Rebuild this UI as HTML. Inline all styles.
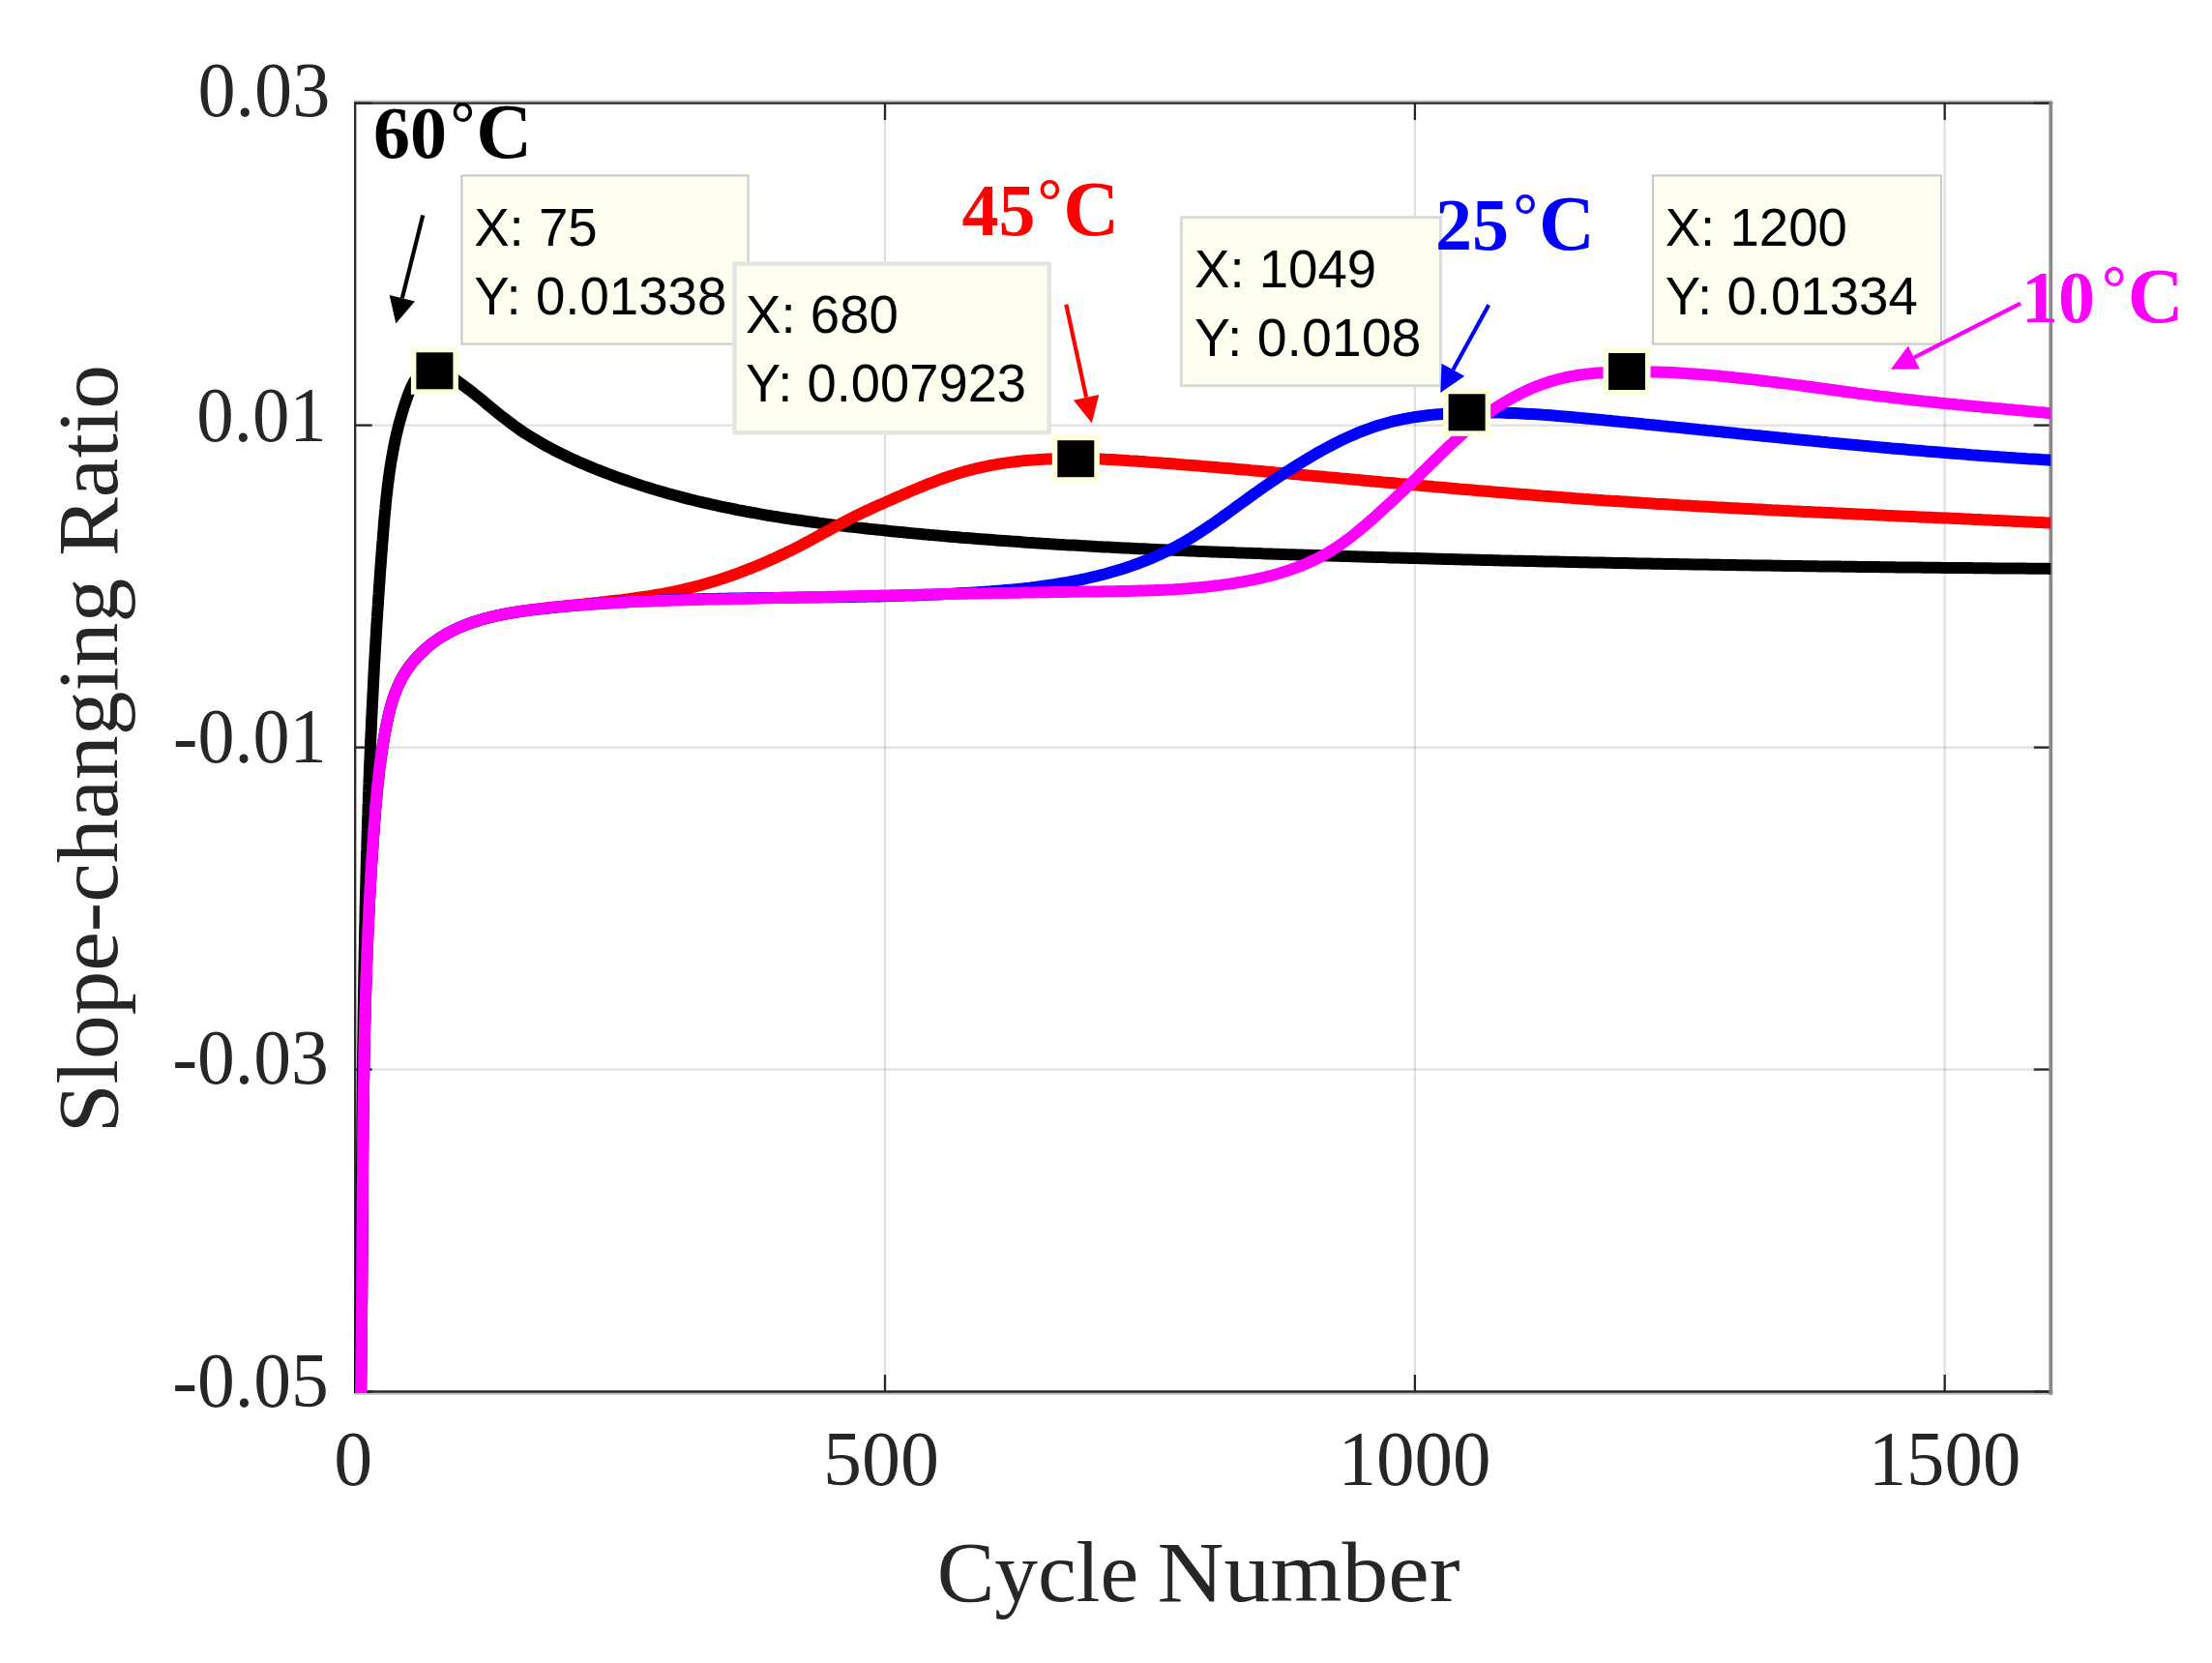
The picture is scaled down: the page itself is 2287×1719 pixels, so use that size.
<!DOCTYPE html>
<html lang="en"><head><meta charset="utf-8"><title>Slope-changing Ratio vs Cycle Number</title>
<style>html,body{margin:0;padding:0;background:#fff}svg{display:block}</style></head>
<body>
<svg width="2287" height="1719" viewBox="0 0 2287 1719">
<rect width="2287" height="1719" fill="#fff"/>
<defs><clipPath id="ax"><rect x="366.0" y="106.6" width="1754.3000000000002" height="1333.5"/></clipPath></defs>
<g stroke="#262626" stroke-opacity="0.145" stroke-width="2.2" fill="none">
<line x1="915.0" y1="106.6" x2="915.0" y2="1438.5"/>
<line x1="1462.9" y1="106.6" x2="1462.9" y2="1438.5"/>
<line x1="2010.7" y1="106.6" x2="2010.7" y2="1438.5"/>
<line x1="367.2" y1="439.6" x2="2120.3" y2="439.6"/>
<line x1="367.2" y1="772.6" x2="2120.3" y2="772.6"/>
<line x1="367.2" y1="1105.5" x2="2120.3" y2="1105.5"/>
</g>
<line x1="366.09999999999997" y1="1440.7" x2="2122.2000000000003" y2="1440.7" stroke="#c0c0c0" stroke-width="2.2"/>
<line x1="366.09999999999997" y1="104.6" x2="2122.2000000000003" y2="104.6" stroke="#c4c4c4" stroke-width="2"/>
<g stroke="#262626" stroke-width="2.3" fill="none">
<line x1="367.2" y1="105.5" x2="367.2" y2="1439.6"/>
<line x1="366.09999999999997" y1="106.6" x2="2122.2000000000003" y2="106.6"/>
<line x1="366.09999999999997" y1="1438.5" x2="2122.2000000000003" y2="1438.5"/>
<line x1="915.0" y1="106.6" x2="915.0" y2="124.1"/>
<line x1="915.0" y1="1438.5" x2="915.0" y2="1421.0"/>
<line x1="1462.9" y1="106.6" x2="1462.9" y2="124.1"/>
<line x1="1462.9" y1="1438.5" x2="1462.9" y2="1421.0"/>
<line x1="2010.7" y1="106.6" x2="2010.7" y2="124.1"/>
<line x1="2010.7" y1="1438.5" x2="2010.7" y2="1421.0"/>
<line x1="367.2" y1="106.6" x2="384.7" y2="106.6"/>
<line x1="2120.3" y1="106.6" x2="2102.8" y2="106.6"/>
<line x1="367.2" y1="439.6" x2="384.7" y2="439.6"/>
<line x1="2120.3" y1="439.6" x2="2102.8" y2="439.6"/>
<line x1="367.2" y1="772.6" x2="384.7" y2="772.6"/>
<line x1="2120.3" y1="772.6" x2="2102.8" y2="772.6"/>
<line x1="367.2" y1="1105.5" x2="384.7" y2="1105.5"/>
<line x1="2120.3" y1="1105.5" x2="2102.8" y2="1105.5"/>
<line x1="367.2" y1="1438.5" x2="384.7" y2="1438.5"/>
<line x1="2120.3" y1="1438.5" x2="2102.8" y2="1438.5"/>
</g>
<line x1="2120.3" y1="105.5" x2="2120.3" y2="1441.7" stroke="#8a8a8a" stroke-width="3.8"/>
<g clip-path="url(#ax)" fill="none" stroke-width="12" stroke-linejoin="round">
<path d="M371.8,1445.0 L371.8,1441.0 L371.9,1437.0 L371.9,1433.0 L372.0,1429.0 L372.0,1425.0 L372.1,1421.0 L372.1,1417.0 L372.2,1413.0 L372.2,1409.0 L372.3,1405.0 L372.3,1401.0 L372.4,1397.0 L372.4,1393.0 L372.4,1389.0 L372.5,1385.0 L372.5,1381.1 L372.6,1377.1 L372.6,1373.1 L372.6,1369.1 L372.7,1365.1 L372.7,1361.1 L372.8,1357.1 L372.8,1353.1 L372.8,1349.1 L372.9,1345.1 L372.9,1341.1 L372.9,1337.1 L373.0,1333.1 L373.0,1329.1 L373.0,1325.1 L373.1,1321.1 L373.1,1317.1 L373.1,1313.1 L373.2,1309.1 L373.2,1305.1 L373.2,1301.1 L373.3,1297.1 L373.3,1293.1 L373.3,1289.1 L373.4,1285.1 L373.4,1281.1 L373.4,1277.1 L373.5,1273.1 L373.5,1269.1 L373.5,1265.1 L373.6,1261.1 L373.6,1257.1 L373.6,1253.1 L373.7,1249.1 L373.7,1245.1 L373.7,1241.1 L373.8,1237.1 L373.8,1233.1 L373.8,1229.1 L373.9,1225.1 L373.9,1221.1 L373.9,1217.1 L374.0,1213.1 L374.0,1209.1 L374.0,1205.1 L374.1,1201.1 L374.1,1197.1 L374.1,1193.1 L374.2,1189.1 L374.2,1185.1 L374.2,1181.1 L374.3,1177.1 L374.3,1173.1 L374.3,1169.1 L374.4,1165.1 L374.4,1161.1 L374.4,1157.1 L374.5,1153.1 L374.5,1149.1 L374.6,1145.1 L374.6,1141.1 L374.6,1137.1 L374.7,1133.1 L374.7,1129.1 L374.8,1125.1 L374.8,1121.1 L374.8,1117.1 L374.9,1113.1 L374.9,1109.1 L375.0,1105.1 L375.0,1101.1 L375.1,1097.1 L375.1,1093.1 L375.2,1089.1 L375.2,1085.1 L375.3,1081.1 L375.3,1077.1 L375.4,1073.1 L375.4,1069.1 L375.5,1065.1 L375.5,1061.1 L375.6,1057.1 L375.6,1053.1 L375.7,1049.1 L375.7,1045.1 L375.8,1041.1 L375.9,1037.1 L375.9,1033.1 L376.0,1029.1 L376.0,1025.1 L376.1,1021.1 L376.2,1017.1 L376.2,1013.1 L376.3,1009.1 L376.4,1005.1 L376.4,1001.1 L376.5,997.1 L376.6,993.1 L376.7,989.1 L376.7,985.1 L376.8,981.1 L376.9,977.1 L377.0,973.1 L377.0,969.1 L377.1,965.1 L377.2,961.1 L377.3,957.1 L377.4,953.1 L377.5,949.2 L377.5,945.2 L377.6,941.2 L377.7,937.2 L377.8,933.2 L377.9,929.2 L378.0,925.2 L378.1,921.2 L378.2,917.2 L378.3,913.2 L378.4,909.2 L378.5,905.2 L378.6,901.2 L378.7,897.2 L378.8,893.2 L378.9,889.2 L379.0,885.2 L379.1,881.2 L379.3,877.2 L379.4,873.2 L379.5,869.2 L379.6,865.2 L379.7,861.2 L379.9,857.2 L380.0,853.2 L380.1,849.2 L380.2,845.2 L380.4,841.2 L380.5,837.2 L380.6,833.2 L380.8,829.2 L380.9,825.2 L381.0,821.2 L381.2,817.2 L381.3,813.2 L381.5,809.2 L381.6,805.2 L381.8,801.3 L381.9,797.3 L382.1,793.3 L382.2,789.3 L382.4,785.3 L382.6,781.3 L382.7,777.3 L382.9,773.3 L383.1,769.3 L383.2,765.3 L383.4,761.3 L383.6,757.3 L383.8,753.3 L383.9,749.3 L384.1,745.3 L384.3,741.3 L384.5,737.3 L384.7,733.4 L384.9,729.4 L385.1,725.4 L385.3,721.4 L385.5,717.4 L385.7,713.4 L385.9,709.4 L386.1,705.4 L386.3,701.4 L386.5,697.4 L386.7,693.4 L386.9,689.4 L387.1,685.4 L387.4,681.5 L387.6,677.5 L387.8,673.5 L388.0,669.5 L388.3,665.5 L388.5,661.5 L388.8,657.5 L389.0,653.5 L389.2,649.5 L389.5,645.5 L389.7,641.6 L390.0,637.6 L390.2,633.6 L390.5,629.6 L390.8,625.6 L391.0,621.6 L391.3,617.6 L391.6,613.6 L391.8,609.7 L392.1,605.7 L392.4,601.7 L392.7,597.7 L392.9,593.7 L393.2,589.7 L393.5,585.7 L393.8,581.7 L394.1,577.8 L394.4,573.8 L394.7,569.8 L395.0,565.8 L395.3,561.8 L395.7,557.8 L396.0,553.8 L396.3,549.9 L396.6,545.9 L396.9,541.9 L397.3,537.9 L397.6,533.9 L398.0,530.0 L398.4,526.0 L398.7,522.0 L399.1,518.0 L399.5,514.0 L400.0,510.1 L400.4,506.1 L400.9,502.1 L401.4,498.2 L401.9,494.2 L402.4,490.2 L403.0,486.3 L403.6,482.3 L404.2,478.4 L404.9,474.4 L405.6,470.5 L406.3,466.6 L407.0,462.6 L407.8,458.7 L408.6,454.8 L409.5,450.8 L410.4,446.9 L411.4,443.0 L412.3,439.1 L413.4,435.2 L414.5,431.3 L415.6,427.4 L416.8,423.5 L418.0,419.6 L419.3,415.8 L420.6,411.9 L422.0,408.0 L423.5,404.2 L425.0,400.5 L426.8,396.9 L428.7,393.6 L431.0,390.6 L433.5,388.0 L436.5,385.9 L439.9,384.4 L443.6,383.5 L447.5,383.1 L451.3,383.4 L455.2,384.3 L458.9,385.7 L462.6,387.4 L466.2,389.5 L469.7,391.7 L473.2,394.1 L476.6,396.6 L480.0,399.1 L483.3,401.6 L486.5,404.1 L489.8,406.6 L492.9,409.1 L496.1,411.7 L499.2,414.2 L502.3,416.8 L505.3,419.3 L508.4,421.8 L511.5,424.3 L514.5,426.8 L517.6,429.3 L520.7,431.7 L523.8,434.1 L526.9,436.5 L530.1,438.9 L533.2,441.2 L536.5,443.5 L539.7,445.7 L543.0,447.9 L546.3,450.0 L549.7,452.1 L553.1,454.2 L556.5,456.2 L560.0,458.2 L563.4,460.2 L566.9,462.1 L570.5,464.0 L574.0,465.8 L577.6,467.6 L581.2,469.4 L584.8,471.2 L588.4,472.9 L592.1,474.6 L595.7,476.3 L599.4,477.9 L603.1,479.5 L606.8,481.1 L610.5,482.6 L614.3,484.2 L618.0,485.7 L621.7,487.1 L625.5,488.6 L629.2,490.0 L633.0,491.4 L636.8,492.8 L640.5,494.2 L644.3,495.5 L648.1,496.8 L651.9,498.1 L655.7,499.4 L659.5,500.6 L663.3,501.9 L667.1,503.1 L670.9,504.3 L674.7,505.4 L678.5,506.6 L682.4,507.7 L686.2,508.8 L690.0,509.9 L693.9,511.0 L697.7,512.0 L701.6,513.1 L705.4,514.1 L709.3,515.1 L713.2,516.1 L717.1,517.0 L720.9,518.0 L724.8,518.9 L728.7,519.8 L732.6,520.7 L736.5,521.6 L740.4,522.4 L744.3,523.3 L748.2,524.1 L752.1,524.9 L756.0,525.7 L759.9,526.5 L763.8,527.3 L767.7,528.0 L771.7,528.8 L775.6,529.5 L779.5,530.2 L783.4,530.9 L787.4,531.6 L791.3,532.3 L795.3,533.0 L799.2,533.6 L803.2,534.2 L807.1,534.9 L811.1,535.5 L815.0,536.1 L819.0,536.7 L822.9,537.3 L826.9,537.8 L830.8,538.4 L834.8,539.0 L838.8,539.5 L842.7,540.0 L846.7,540.6 L850.7,541.1 L854.6,541.6 L858.6,542.1 L862.6,542.6 L866.6,543.1 L870.5,543.5 L874.5,544.0 L878.5,544.5 L882.5,544.9 L886.5,545.4 L890.4,545.8 L894.4,546.2 L898.4,546.7 L902.4,547.1 L906.4,547.5 L910.3,547.9 L914.3,548.3 L918.3,548.8 L922.3,549.2 L926.3,549.6 L930.3,549.9 L934.2,550.3 L938.2,550.7 L942.2,551.1 L946.2,551.5 L950.2,551.8 L954.2,552.2 L958.2,552.6 L962.1,552.9 L966.1,553.3 L970.1,553.6 L974.1,554.0 L978.1,554.3 L982.1,554.7 L986.1,555.0 L990.0,555.3 L994.0,555.7 L998.0,556.0 L1002.0,556.3 L1006.0,556.6 L1010.0,556.9 L1014.0,557.2 L1018.0,557.5 L1021.9,557.8 L1025.9,558.1 L1029.9,558.4 L1033.9,558.7 L1037.9,559.0 L1041.9,559.3 L1045.9,559.6 L1049.9,559.8 L1053.9,560.1 L1057.8,560.4 L1061.8,560.7 L1065.8,560.9 L1069.8,561.2 L1073.8,561.4 L1077.8,561.7 L1081.8,561.9 L1085.8,562.2 L1089.8,562.4 L1093.8,562.7 L1097.7,562.9 L1101.7,563.2 L1105.7,563.4 L1109.7,563.6 L1113.7,563.8 L1117.7,564.1 L1121.7,564.3 L1125.7,564.5 L1129.7,564.7 L1133.7,565.0 L1137.7,565.2 L1141.6,565.4 L1145.6,565.6 L1149.6,565.8 L1153.6,566.0 L1157.6,566.2 L1161.6,566.4 L1165.6,566.6 L1169.6,566.8 L1173.6,567.0 L1177.6,567.2 L1181.6,567.3 L1185.6,567.5 L1189.6,567.7 L1193.6,567.9 L1197.5,568.1 L1201.5,568.2 L1205.5,568.4 L1209.5,568.6 L1213.5,568.8 L1217.5,568.9 L1221.5,569.1 L1225.5,569.3 L1229.5,569.4 L1233.5,569.6 L1237.5,569.8 L1241.5,569.9 L1245.5,570.1 L1249.5,570.2 L1253.5,570.4 L1257.5,570.5 L1261.5,570.7 L1265.4,570.8 L1269.4,571.0 L1273.4,571.1 L1277.4,571.3 L1281.4,571.4 L1285.4,571.6 L1289.4,571.7 L1293.4,571.8 L1297.4,572.0 L1301.4,572.1 L1305.4,572.3 L1309.4,572.4 L1313.4,572.5 L1317.4,572.7 L1321.4,572.8 L1325.4,572.9 L1329.4,573.1 L1333.4,573.2 L1337.4,573.3 L1341.4,573.5 L1345.4,573.6 L1349.4,573.7 L1353.4,573.8 L1357.3,574.0 L1361.3,574.1 L1365.3,574.2 L1369.3,574.3 L1373.3,574.5 L1377.3,574.6 L1381.3,574.7 L1385.3,574.8 L1389.3,575.0 L1393.3,575.1 L1397.3,575.2 L1401.3,575.3 L1405.3,575.4 L1409.3,575.5 L1413.3,575.7 L1417.3,575.8 L1421.3,575.9 L1425.3,576.0 L1429.3,576.1 L1433.3,576.2 L1437.3,576.4 L1441.3,576.5 L1445.3,576.6 L1449.3,576.7 L1453.3,576.8 L1457.3,576.9 L1461.3,577.0 L1465.3,577.1 L1469.3,577.2 L1473.3,577.3 L1477.3,577.5 L1481.3,577.6 L1485.3,577.7 L1489.2,577.8 L1493.2,577.9 L1497.2,578.0 L1501.2,578.1 L1505.2,578.2 L1509.2,578.3 L1513.2,578.4 L1517.2,578.5 L1521.2,578.6 L1525.2,578.7 L1529.2,578.8 L1533.2,578.9 L1537.2,579.0 L1541.2,579.1 L1545.2,579.2 L1549.2,579.3 L1553.2,579.4 L1557.2,579.5 L1561.2,579.6 L1565.2,579.7 L1569.2,579.7 L1573.2,579.8 L1577.2,579.9 L1581.2,580.0 L1585.2,580.1 L1589.2,580.2 L1593.2,580.3 L1597.2,580.4 L1601.2,580.5 L1605.2,580.6 L1609.2,580.6 L1613.2,580.7 L1617.2,580.8 L1621.2,580.9 L1625.2,581.0 L1629.2,581.1 L1633.2,581.2 L1637.2,581.2 L1641.2,581.3 L1645.2,581.4 L1649.2,581.5 L1653.2,581.6 L1657.2,581.6 L1661.2,581.7 L1665.2,581.8 L1669.2,581.9 L1673.2,582.0 L1677.2,582.0 L1681.2,582.1 L1685.2,582.2 L1689.2,582.3 L1693.2,582.4 L1697.2,582.4 L1701.2,582.5 L1705.2,582.6 L1709.2,582.7 L1713.2,582.7 L1717.2,582.8 L1721.2,582.9 L1725.2,582.9 L1729.2,583.0 L1733.2,583.1 L1737.1,583.2 L1741.1,583.2 L1745.1,583.3 L1749.1,583.4 L1753.1,583.4 L1757.1,583.5 L1761.1,583.6 L1765.1,583.6 L1769.1,583.7 L1773.1,583.8 L1777.1,583.8 L1781.1,583.9 L1785.1,584.0 L1789.1,584.0 L1793.1,584.1 L1797.1,584.2 L1801.1,584.2 L1805.1,584.3 L1809.1,584.3 L1813.1,584.4 L1817.1,584.5 L1821.1,584.5 L1825.1,584.6 L1829.1,584.6 L1833.1,584.7 L1837.1,584.8 L1841.1,584.8 L1845.1,584.9 L1849.1,584.9 L1853.1,585.0 L1857.1,585.0 L1861.1,585.1 L1865.1,585.2 L1869.1,585.2 L1873.1,585.3 L1877.1,585.3 L1881.1,585.4 L1885.1,585.4 L1889.1,585.5 L1893.1,585.5 L1897.1,585.6 L1901.1,585.6 L1905.1,585.7 L1909.1,585.7 L1913.1,585.8 L1917.1,585.8 L1921.1,585.9 L1925.1,585.9 L1929.1,586.0 L1933.1,586.0 L1937.1,586.1 L1941.1,586.1 L1945.1,586.2 L1949.1,586.2 L1953.1,586.3 L1957.1,586.3 L1961.1,586.4 L1965.1,586.4 L1969.1,586.4 L1973.1,586.5 L1977.1,586.5 L1981.1,586.6 L1985.1,586.6 L1989.1,586.7 L1993.1,586.7 L1997.1,586.7 L2001.1,586.8 L2005.1,586.8 L2009.1,586.9 L2013.1,586.9 L2017.1,587.0 L2021.1,587.0 L2025.0,587.0 L2029.0,587.1 L2033.0,587.1 L2037.0,587.1 L2041.0,587.2 L2045.0,587.2 L2049.0,587.3 L2053.0,587.3 L2057.0,587.3 L2061.0,587.4 L2065.0,587.4 L2069.0,587.4 L2073.0,587.5 L2077.0,587.5 L2081.0,587.5 L2085.0,587.6 L2089.0,587.6 L2093.0,587.6 L2097.0,587.7 L2101.0,587.7 L2105.0,587.7 L2109.0,587.8 L2113.0,587.8 L2117.0,587.8 L2121.0,587.9 L2125.0,587.9" stroke="#000000"/>
<path d="M373.0,1445.0 L373.0,1441.4 L373.1,1437.8 L373.2,1434.2 L373.2,1430.6 L373.3,1427.1 L373.3,1423.5 L373.4,1419.9 L373.5,1416.3 L373.5,1412.7 L373.6,1409.1 L373.6,1405.5 L373.7,1402.0 L373.7,1398.4 L373.7,1394.8 L373.8,1391.2 L373.8,1387.6 L373.9,1384.0 L373.9,1380.4 L373.9,1376.8 L374.0,1373.2 L374.0,1369.7 L374.1,1366.1 L374.1,1362.5 L374.1,1358.9 L374.2,1355.3 L374.2,1351.7 L374.2,1348.1 L374.2,1344.5 L374.3,1340.9 L374.3,1337.3 L374.3,1333.7 L374.4,1330.1 L374.4,1326.6 L374.4,1323.0 L374.4,1319.4 L374.5,1315.8 L374.5,1312.2 L374.5,1308.6 L374.5,1305.0 L374.5,1301.4 L374.6,1297.8 L374.6,1294.2 L374.6,1290.6 L374.6,1287.0 L374.6,1283.4 L374.7,1279.8 L374.7,1276.2 L374.7,1272.6 L374.7,1269.0 L374.7,1265.5 L374.8,1261.9 L374.8,1258.3 L374.8,1254.7 L374.8,1251.1 L374.8,1247.5 L374.9,1243.9 L374.9,1240.3 L374.9,1236.7 L374.9,1233.1 L375.0,1229.5 L375.0,1225.9 L375.0,1222.3 L375.0,1218.7 L375.0,1215.1 L375.1,1211.5 L375.1,1207.9 L375.1,1204.3 L375.1,1200.7 L375.2,1197.1 L375.2,1193.5 L375.2,1189.9 L375.3,1186.3 L375.3,1182.7 L375.3,1179.1 L375.4,1175.5 L375.4,1172.0 L375.4,1168.4 L375.5,1164.8 L375.5,1161.2 L375.5,1157.6 L375.6,1154.0 L375.6,1150.4 L375.7,1146.8 L375.7,1143.2 L375.7,1139.6 L375.8,1136.0 L375.8,1132.4 L375.9,1128.8 L375.9,1125.2 L376.0,1121.6 L376.0,1118.0 L376.1,1114.4 L376.1,1110.8 L376.2,1107.2 L376.3,1103.6 L376.3,1100.0 L376.4,1096.4 L376.4,1092.8 L376.5,1089.2 L376.6,1085.7 L376.7,1082.1 L376.7,1078.5 L376.8,1074.9 L376.9,1071.3 L377.0,1067.7 L377.0,1064.1 L377.1,1060.5 L377.2,1056.9 L377.3,1053.3 L377.4,1049.7 L377.5,1046.1 L377.6,1042.5 L377.7,1038.9 L377.8,1035.3 L377.9,1031.8 L378.0,1028.2 L378.1,1024.6 L378.2,1021.0 L378.3,1017.4 L378.4,1013.8 L378.5,1010.2 L378.7,1006.6 L378.8,1003.0 L378.9,999.4 L379.0,995.8 L379.2,992.3 L379.3,988.7 L379.4,985.1 L379.6,981.5 L379.7,977.9 L379.9,974.3 L380.0,970.7 L380.2,967.1 L380.3,963.6 L380.5,960.0 L380.7,956.4 L380.8,952.8 L381.0,949.2 L381.2,945.6 L381.4,942.0 L381.5,938.5 L381.7,934.9 L381.9,931.3 L382.1,927.7 L382.3,924.1 L382.5,920.5 L382.7,917.0 L382.9,913.4 L383.1,909.8 L383.3,906.2 L383.5,902.6 L383.8,899.0 L384.0,895.5 L384.2,891.9 L384.5,888.3 L384.7,884.7 L384.9,881.1 L385.2,877.6 L385.4,874.0 L385.7,870.4 L386.0,866.8 L386.2,863.3 L386.5,859.7 L386.8,856.1 L387.0,852.5 L387.3,849.0 L387.6,845.4 L387.9,841.8 L388.2,838.2 L388.5,834.7 L388.8,831.1 L389.1,827.5 L389.5,823.9 L389.8,820.4 L390.2,816.8 L390.5,813.2 L390.9,809.7 L391.3,806.1 L391.7,802.5 L392.1,798.9 L392.5,795.4 L393.0,791.8 L393.4,788.2 L393.9,784.7 L394.4,781.1 L394.9,777.5 L395.4,774.0 L396.0,770.4 L396.5,766.8 L397.1,763.2 L397.7,759.7 L398.4,756.1 L399.0,752.5 L399.7,749.0 L400.4,745.4 L401.1,741.9 L401.9,738.3 L402.8,734.8 L403.7,731.3 L404.6,727.8 L405.6,724.3 L406.7,720.9 L407.9,717.5 L409.2,714.2 L410.5,710.9 L411.9,707.6 L413.5,704.4 L415.1,701.2 L416.8,698.1 L418.7,695.1 L420.7,692.1 L422.7,689.2 L424.9,686.3 L427.2,683.5 L429.6,680.8 L432.0,678.2 L434.5,675.6 L437.1,673.1 L439.8,670.7 L442.5,668.4 L445.3,666.2 L448.1,664.0 L451.0,661.9 L454.0,660.0 L456.9,658.1 L460.0,656.3 L463.0,654.5 L466.2,652.9 L469.3,651.3 L472.5,649.8 L475.7,648.4 L479.0,647.0 L482.3,645.7 L485.6,644.5 L489.0,643.3 L492.4,642.2 L495.8,641.1 L499.2,640.1 L502.7,639.1 L506.2,638.2 L509.7,637.4 L513.2,636.5 L516.7,635.8 L520.3,635.0 L523.9,634.3 L527.5,633.7 L531.1,633.1 L534.7,632.5 L538.3,631.9 L541.9,631.4 L545.6,630.8 L549.2,630.4 L552.8,629.9 L556.5,629.4 L560.1,629.0 L563.8,628.6 L567.4,628.2 L571.0,627.8 L574.7,627.4 L578.3,627.0 L581.9,626.6 L585.5,626.2 L589.1,625.8 L592.7,625.5 L596.3,625.1 L599.9,624.7 L603.5,624.4 L607.1,624.0 L610.7,623.6 L614.2,623.2 L617.8,622.9 L621.4,622.5 L624.9,622.1 L628.5,621.7 L632.1,621.3 L635.6,620.9 L639.2,620.5 L642.7,620.1 L646.2,619.6 L649.8,619.2 L653.3,618.7 L656.8,618.2 L660.3,617.7 L663.9,617.2 L667.4,616.7 L670.9,616.2 L674.4,615.6 L677.9,615.0 L681.4,614.4 L684.9,613.8 L688.4,613.1 L691.9,612.5 L695.4,611.8 L698.9,611.0 L702.3,610.3 L705.8,609.5 L709.3,608.7 L712.8,607.9 L716.2,607.0 L719.7,606.1 L723.2,605.2 L726.6,604.2 L730.1,603.3 L733.5,602.3 L737.0,601.2 L740.4,600.2 L743.8,599.1 L747.3,598.0 L750.7,596.8 L754.1,595.7 L757.5,594.5 L760.9,593.3 L764.3,592.0 L767.7,590.7 L771.1,589.5 L774.4,588.1 L777.8,586.8 L781.1,585.5 L784.5,584.1 L787.8,582.7 L791.1,581.2 L794.5,579.8 L797.8,578.3 L801.1,576.9 L804.3,575.3 L807.6,573.8 L810.9,572.3 L814.1,570.7 L817.4,569.1 L820.6,567.5 L823.8,565.9 L827.0,564.3 L830.2,562.6 L833.4,560.9 L836.6,559.2 L839.7,557.5 L842.9,555.8 L846.0,554.1 L849.2,552.4 L852.3,550.6 L855.4,548.9 L858.6,547.2 L861.7,545.5 L864.8,543.8 L867.9,542.1 L871.1,540.4 L874.2,538.7 L877.4,537.1 L880.5,535.4 L883.7,533.8 L886.9,532.3 L890.1,530.7 L893.3,529.2 L896.5,527.7 L899.7,526.2 L903.0,524.7 L906.2,523.3 L909.5,521.8 L912.8,520.4 L916.1,518.9 L919.4,517.4 L922.7,516.0 L926.0,514.5 L929.3,513.1 L932.6,511.6 L936.0,510.2 L939.3,508.7 L942.7,507.3 L946.0,505.9 L949.4,504.5 L952.8,503.1 L956.1,501.7 L959.5,500.4 L962.9,499.1 L966.3,497.8 L969.7,496.5 L973.1,495.2 L976.6,494.0 L980.0,492.8 L983.4,491.7 L986.9,490.6 L990.3,489.5 L993.8,488.4 L997.2,487.4 L1000.7,486.5 L1004.2,485.6 L1007.6,484.7 L1011.1,483.9 L1014.6,483.1 L1018.1,482.3 L1021.6,481.6 L1025.1,480.9 L1028.6,480.3 L1032.1,479.7 L1035.6,479.1 L1039.1,478.6 L1042.6,478.1 L1046.2,477.6 L1049.7,477.2 L1053.2,476.8 L1056.8,476.4 L1060.3,476.0 L1063.8,475.7 L1067.4,475.4 L1070.9,475.2 L1074.5,474.9 L1078.1,474.7 L1081.6,474.6 L1085.2,474.4 L1088.8,474.3 L1092.3,474.2 L1095.9,474.1 L1099.5,474.0 L1103.0,474.0 L1106.6,474.0 L1110.2,474.0 L1113.8,474.0 L1117.4,474.0 L1121.0,474.1 L1124.6,474.2 L1128.1,474.2 L1131.7,474.4 L1135.3,474.5 L1138.9,474.6 L1142.5,474.8 L1146.1,474.9 L1149.7,475.1 L1153.3,475.3 L1156.9,475.5 L1160.5,475.7 L1164.1,475.9 L1167.7,476.2 L1171.3,476.4 L1174.9,476.6 L1178.5,476.9 L1182.1,477.1 L1185.7,477.4 L1189.3,477.7 L1192.9,477.9 L1196.5,478.2 L1200.1,478.5 L1203.7,478.8 L1207.3,479.0 L1210.9,479.3 L1214.5,479.6 L1218.1,479.9 L1221.7,480.2 L1225.3,480.5 L1228.9,480.7 L1232.5,481.0 L1236.1,481.3 L1239.7,481.6 L1243.3,481.9 L1246.9,482.2 L1250.5,482.5 L1254.1,482.8 L1257.7,483.1 L1261.2,483.4 L1264.8,483.7 L1268.4,484.0 L1272.0,484.3 L1275.6,484.6 L1279.2,484.9 L1282.8,485.2 L1286.4,485.5 L1289.9,485.8 L1293.5,486.2 L1297.1,486.5 L1300.7,486.8 L1304.3,487.1 L1307.9,487.4 L1311.4,487.7 L1315.0,488.0 L1318.6,488.4 L1322.2,488.7 L1325.8,489.0 L1329.4,489.3 L1332.9,489.6 L1336.5,489.9 L1340.1,490.3 L1343.7,490.6 L1347.3,490.9 L1350.8,491.2 L1354.4,491.6 L1358.0,491.9 L1361.6,492.2 L1365.1,492.5 L1368.7,492.8 L1372.3,493.2 L1375.9,493.5 L1379.5,493.8 L1383.0,494.1 L1386.6,494.5 L1390.2,494.8 L1393.8,495.1 L1397.3,495.4 L1400.9,495.8 L1404.5,496.1 L1408.1,496.4 L1411.6,496.7 L1415.2,497.1 L1418.8,497.4 L1422.4,497.7 L1425.9,498.0 L1429.5,498.4 L1433.1,498.7 L1436.7,499.0 L1440.2,499.3 L1443.8,499.6 L1447.4,500.0 L1450.9,500.3 L1454.5,500.6 L1458.1,500.9 L1461.7,501.2 L1465.2,501.6 L1468.8,501.9 L1472.4,502.2 L1476.0,502.5 L1479.5,502.8 L1483.1,503.2 L1486.7,503.5 L1490.3,503.8 L1493.8,504.1 L1497.4,504.4 L1501.0,504.7 L1504.5,505.0 L1508.1,505.4 L1511.7,505.7 L1515.3,506.0 L1518.8,506.3 L1522.4,506.6 L1526.0,506.9 L1529.6,507.2 L1533.1,507.5 L1536.7,507.8 L1540.3,508.1 L1543.9,508.4 L1547.4,508.7 L1551.0,509.0 L1554.6,509.3 L1558.2,509.6 L1561.7,509.9 L1565.3,510.2 L1568.9,510.5 L1572.5,510.8 L1576.0,511.0 L1579.6,511.3 L1583.2,511.6 L1586.8,511.9 L1590.3,512.2 L1593.9,512.5 L1597.5,512.7 L1601.1,513.0 L1604.7,513.3 L1608.2,513.6 L1611.8,513.8 L1615.4,514.1 L1619.0,514.4 L1622.6,514.6 L1626.1,514.9 L1629.7,515.2 L1633.3,515.4 L1636.9,515.7 L1640.5,515.9 L1644.0,516.2 L1647.6,516.4 L1651.2,516.7 L1654.8,516.9 L1658.4,517.2 L1662.0,517.4 L1665.5,517.7 L1669.1,517.9 L1672.7,518.1 L1676.3,518.4 L1679.9,518.6 L1683.5,518.8 L1687.1,519.1 L1690.6,519.3 L1694.2,519.5 L1697.8,519.8 L1701.4,520.0 L1705.0,520.2 L1708.6,520.4 L1712.2,520.7 L1715.8,520.9 L1719.3,521.1 L1722.9,521.3 L1726.5,521.5 L1730.1,521.7 L1733.7,521.9 L1737.3,522.2 L1740.9,522.4 L1744.5,522.6 L1748.1,522.8 L1751.7,523.0 L1755.2,523.2 L1758.8,523.4 L1762.4,523.6 L1766.0,523.8 L1769.6,524.0 L1773.2,524.2 L1776.8,524.4 L1780.4,524.6 L1784.0,524.8 L1787.6,525.0 L1791.2,525.2 L1794.8,525.3 L1798.3,525.5 L1801.9,525.7 L1805.5,525.9 L1809.1,526.1 L1812.7,526.3 L1816.3,526.5 L1819.9,526.6 L1823.5,526.8 L1827.1,527.0 L1830.7,527.2 L1834.3,527.4 L1837.9,527.5 L1841.5,527.7 L1845.0,527.9 L1848.6,528.1 L1852.2,528.3 L1855.8,528.4 L1859.4,528.6 L1863.0,528.8 L1866.6,528.9 L1870.2,529.1 L1873.8,529.3 L1877.4,529.5 L1881.0,529.6 L1884.6,529.8 L1888.2,530.0 L1891.8,530.1 L1895.4,530.3 L1898.9,530.5 L1902.5,530.6 L1906.1,530.8 L1909.7,531.0 L1913.3,531.1 L1916.9,531.3 L1920.5,531.5 L1924.1,531.6 L1927.7,531.8 L1931.3,531.9 L1934.9,532.1 L1938.5,532.3 L1942.1,532.4 L1945.6,532.6 L1949.2,532.8 L1952.8,532.9 L1956.4,533.1 L1960.0,533.2 L1963.6,533.4 L1967.2,533.6 L1970.8,533.7 L1974.4,533.9 L1978.0,534.0 L1981.5,534.2 L1985.1,534.4 L1988.7,534.5 L1992.3,534.7 L1995.9,534.8 L1999.5,535.0 L2003.1,535.2 L2006.7,535.3 L2010.3,535.5 L2013.8,535.6 L2017.4,535.8 L2021.0,536.0 L2024.6,536.1 L2028.2,536.3 L2031.8,536.5 L2035.4,536.6 L2039.0,536.8 L2042.5,536.9 L2046.1,537.1 L2049.7,537.3 L2053.3,537.4 L2056.9,537.6 L2060.5,537.8 L2064.1,537.9 L2067.6,538.1 L2071.2,538.2 L2074.8,538.4 L2078.4,538.6 L2082.0,538.7 L2085.5,538.9 L2089.1,539.1 L2092.7,539.2 L2096.3,539.4 L2099.9,539.6 L2103.5,539.8 L2107.0,539.9 L2110.6,540.1 L2114.2,540.3 L2117.8,540.4 L2121.3,540.6 L2124.9,540.8" stroke="#ff0000"/>
<path d="M373.0,1445.0 L373.1,1441.4 L373.1,1437.8 L373.2,1434.2 L373.2,1430.6 L373.3,1426.9 L373.3,1423.3 L373.4,1419.7 L373.4,1416.1 L373.4,1412.5 L373.5,1408.9 L373.5,1405.3 L373.6,1401.7 L373.6,1398.1 L373.6,1394.4 L373.7,1390.8 L373.7,1387.2 L373.8,1383.6 L373.8,1380.0 L373.8,1376.4 L373.9,1372.8 L373.9,1369.2 L373.9,1365.5 L373.9,1361.9 L374.0,1358.3 L374.0,1354.7 L374.0,1351.1 L374.1,1347.5 L374.1,1343.9 L374.1,1340.2 L374.1,1336.6 L374.2,1333.0 L374.2,1329.4 L374.2,1325.8 L374.2,1322.2 L374.3,1318.5 L374.3,1314.9 L374.3,1311.3 L374.3,1307.7 L374.4,1304.1 L374.4,1300.5 L374.4,1296.8 L374.4,1293.2 L374.4,1289.6 L374.5,1286.0 L374.5,1282.4 L374.5,1278.8 L374.5,1275.1 L374.6,1271.5 L374.6,1267.9 L374.6,1264.3 L374.6,1260.7 L374.6,1257.1 L374.7,1253.4 L374.7,1249.8 L374.7,1246.2 L374.7,1242.6 L374.8,1239.0 L374.8,1235.4 L374.8,1231.7 L374.8,1228.1 L374.9,1224.5 L374.9,1220.9 L374.9,1217.3 L375.0,1213.6 L375.0,1210.0 L375.0,1206.4 L375.0,1202.8 L375.1,1199.2 L375.1,1195.6 L375.1,1191.9 L375.2,1188.3 L375.2,1184.7 L375.3,1181.1 L375.3,1177.5 L375.3,1173.8 L375.4,1170.2 L375.4,1166.6 L375.4,1163.0 L375.5,1159.4 L375.5,1155.8 L375.6,1152.1 L375.6,1148.5 L375.7,1144.9 L375.7,1141.3 L375.8,1137.7 L375.8,1134.0 L375.9,1130.4 L375.9,1126.8 L376.0,1123.2 L376.0,1119.6 L376.1,1116.0 L376.2,1112.3 L376.2,1108.7 L376.3,1105.1 L376.4,1101.5 L376.4,1097.9 L376.5,1094.3 L376.6,1090.6 L376.6,1087.0 L376.7,1083.4 L376.8,1079.8 L376.9,1076.2 L377.0,1072.6 L377.0,1068.9 L377.1,1065.3 L377.2,1061.7 L377.3,1058.1 L377.4,1054.5 L377.5,1050.9 L377.6,1047.3 L377.7,1043.6 L377.8,1040.0 L377.9,1036.4 L378.0,1032.8 L378.1,1029.2 L378.2,1025.6 L378.3,1022.0 L378.4,1018.3 L378.5,1014.7 L378.7,1011.1 L378.8,1007.5 L378.9,1003.9 L379.0,1000.3 L379.2,996.7 L379.3,993.1 L379.4,989.4 L379.6,985.8 L379.7,982.2 L379.9,978.6 L380.0,975.0 L380.1,971.4 L380.3,967.8 L380.5,964.2 L380.6,960.6 L380.8,956.9 L380.9,953.3 L381.1,949.7 L381.3,946.1 L381.5,942.5 L381.6,938.9 L381.8,935.3 L382.0,931.7 L382.2,928.1 L382.4,924.5 L382.6,920.9 L382.8,917.3 L383.0,913.7 L383.2,910.1 L383.4,906.4 L383.6,902.8 L383.8,899.2 L384.0,895.6 L384.2,892.0 L384.5,888.4 L384.7,884.8 L384.9,881.2 L385.2,877.6 L385.4,874.0 L385.7,870.4 L385.9,866.8 L386.2,863.2 L386.4,859.6 L386.7,856.0 L386.9,852.4 L387.2,848.8 L387.5,845.2 L387.8,841.6 L388.0,838.0 L388.3,834.4 L388.6,830.8 L388.9,827.2 L389.3,823.6 L389.6,820.0 L389.9,816.4 L390.3,812.8 L390.7,809.2 L391.0,805.7 L391.4,802.1 L391.8,798.5 L392.3,794.9 L392.7,791.3 L393.2,787.7 L393.7,784.1 L394.2,780.5 L394.7,776.9 L395.2,773.3 L395.8,769.7 L396.4,766.1 L397.0,762.5 L397.6,759.0 L398.3,755.4 L399.0,751.8 L399.7,748.2 L400.5,744.6 L401.3,741.0 L402.1,737.5 L403.0,734.0 L404.0,730.4 L405.0,726.9 L406.1,723.5 L407.2,720.0 L408.5,716.7 L409.8,713.3 L411.2,710.0 L412.7,706.7 L414.3,703.5 L416.0,700.3 L417.8,697.2 L419.7,694.2 L421.7,691.2 L423.8,688.2 L426.0,685.4 L428.3,682.6 L430.7,679.9 L433.2,677.2 L435.7,674.7 L438.3,672.2 L441.0,669.8 L443.7,667.5 L446.5,665.3 L449.4,663.1 L452.2,661.1 L455.2,659.1 L458.2,657.3 L461.2,655.5 L464.3,653.8 L467.4,652.2 L470.5,650.6 L473.7,649.1 L477.0,647.7 L480.2,646.4 L483.5,645.1 L486.9,643.9 L490.2,642.7 L493.6,641.7 L497.1,640.6 L500.5,639.6 L504.0,638.7 L507.5,637.9 L511.0,637.0 L514.5,636.2 L518.1,635.5 L521.7,634.8 L525.3,634.1 L528.9,633.5 L532.5,632.9 L536.1,632.4 L539.8,631.8 L543.4,631.3 L547.1,630.9 L550.7,630.4 L554.4,630.0 L558.1,629.6 L561.8,629.1 L565.4,628.8 L569.1,628.4 L572.8,628.0 L576.4,627.6 L580.1,627.3 L583.7,626.9 L587.4,626.6 L591.1,626.3 L594.7,626.0 L598.4,625.6 L602.0,625.3 L605.7,625.1 L609.3,624.8 L613.0,624.5 L616.6,624.2 L620.2,624.0 L623.9,623.7 L627.5,623.5 L631.1,623.2 L634.8,623.0 L638.4,622.8 L642.0,622.6 L645.7,622.4 L649.3,622.2 L652.9,622.0 L656.5,621.8 L660.2,621.6 L663.8,621.4 L667.4,621.2 L671.0,621.1 L674.7,620.9 L678.3,620.8 L681.9,620.6 L685.5,620.5 L689.1,620.3 L692.7,620.2 L696.3,620.1 L699.9,620.0 L703.5,619.8 L707.2,619.7 L710.8,619.6 L714.4,619.5 L718.0,619.4 L721.6,619.3 L725.2,619.2 L728.8,619.1 L732.4,619.0 L736.0,619.0 L739.6,618.9 L743.2,618.8 L746.8,618.7 L750.4,618.7 L754.0,618.6 L757.6,618.5 L761.2,618.5 L764.8,618.4 L768.4,618.4 L771.9,618.3 L775.5,618.3 L779.1,618.2 L782.7,618.2 L786.3,618.1 L789.9,618.1 L793.5,618.0 L797.1,618.0 L800.7,617.9 L804.3,617.9 L807.9,617.8 L811.5,617.8 L815.1,617.8 L818.7,617.7 L822.2,617.7 L825.8,617.6 L829.4,617.6 L833.0,617.5 L836.6,617.5 L840.2,617.5 L843.8,617.4 L847.4,617.4 L851.0,617.3 L854.6,617.3 L858.2,617.2 L861.8,617.2 L865.4,617.1 L869.0,617.1 L872.6,617.0 L876.1,617.0 L879.7,616.9 L883.3,616.9 L886.9,616.8 L890.5,616.7 L894.1,616.7 L897.7,616.6 L901.3,616.5 L904.9,616.4 L908.5,616.4 L912.1,616.3 L915.8,616.2 L919.4,616.1 L923.0,616.0 L926.6,615.9 L930.2,615.8 L933.8,615.7 L937.4,615.6 L941.0,615.5 L944.6,615.4 L948.2,615.2 L951.9,615.1 L955.5,615.0 L959.1,614.8 L962.7,614.7 L966.3,614.5 L969.9,614.4 L973.6,614.2 L977.2,614.1 L980.8,613.9 L984.4,613.7 L988.1,613.5 L991.7,613.3 L995.3,613.1 L999.0,612.9 L1002.6,612.7 L1006.2,612.5 L1009.9,612.3 L1013.5,612.0 L1017.2,611.8 L1020.8,611.5 L1024.4,611.3 L1028.1,611.0 L1031.7,610.7 L1035.4,610.4 L1039.0,610.1 L1042.6,609.8 L1046.3,609.5 L1049.9,609.1 L1053.5,608.7 L1057.1,608.4 L1060.8,608.0 L1064.4,607.6 L1068.0,607.1 L1071.6,606.7 L1075.2,606.2 L1078.8,605.7 L1082.4,605.2 L1086.0,604.7 L1089.6,604.2 L1093.2,603.6 L1096.8,603.0 L1100.3,602.4 L1103.9,601.8 L1107.5,601.1 L1111.0,600.5 L1114.6,599.8 L1118.1,599.0 L1121.6,598.3 L1125.1,597.5 L1128.7,596.7 L1132.2,595.9 L1135.6,595.0 L1139.1,594.2 L1142.6,593.3 L1146.1,592.3 L1149.5,591.3 L1153.0,590.3 L1156.4,589.3 L1159.8,588.3 L1163.2,587.2 L1166.6,586.0 L1170.0,584.9 L1173.4,583.7 L1176.7,582.5 L1180.1,581.2 L1183.4,579.9 L1186.8,578.6 L1190.1,577.2 L1193.4,575.8 L1196.6,574.3 L1199.9,572.9 L1203.1,571.3 L1206.4,569.8 L1209.6,568.2 L1212.8,566.5 L1216.0,564.9 L1219.2,563.1 L1222.3,561.4 L1225.5,559.6 L1228.6,557.7 L1231.7,555.9 L1234.8,553.9 L1237.9,552.0 L1240.9,550.0 L1244.0,548.0 L1247.0,546.0 L1250.0,544.0 L1253.1,541.9 L1256.1,539.8 L1259.1,537.7 L1262.1,535.6 L1265.1,533.4 L1268.0,531.3 L1271.0,529.2 L1274.0,527.0 L1276.9,524.9 L1279.9,522.7 L1282.9,520.5 L1285.8,518.4 L1288.8,516.3 L1291.7,514.1 L1294.7,512.0 L1297.6,509.9 L1300.6,507.8 L1303.5,505.7 L1306.5,503.6 L1309.4,501.6 L1312.4,499.5 L1315.4,497.5 L1318.3,495.5 L1321.3,493.5 L1324.3,491.5 L1327.3,489.6 L1330.3,487.6 L1333.3,485.7 L1336.3,483.8 L1339.4,481.9 L1342.4,480.0 L1345.5,478.1 L1348.6,476.2 L1351.7,474.3 L1354.8,472.5 L1357.9,470.6 L1361.0,468.8 L1364.2,467.0 L1367.4,465.2 L1370.6,463.5 L1373.7,461.8 L1377.0,460.1 L1380.2,458.4 L1383.4,456.8 L1386.7,455.2 L1390.0,453.6 L1393.2,452.1 L1396.5,450.6 L1399.9,449.2 L1403.2,447.7 L1406.5,446.4 L1409.9,445.1 L1413.3,443.8 L1416.7,442.6 L1420.1,441.4 L1423.5,440.3 L1426.9,439.2 L1430.4,438.2 L1433.9,437.2 L1437.3,436.3 L1440.8,435.4 L1444.4,434.6 L1447.9,433.8 L1451.4,433.1 L1454.9,432.5 L1458.5,431.8 L1462.1,431.2 L1465.6,430.7 L1469.2,430.2 L1472.8,429.7 L1476.4,429.3 L1480.0,428.9 L1483.6,428.5 L1487.2,428.2 L1490.8,427.9 L1494.4,427.6 L1498.0,427.4 L1501.7,427.2 L1505.3,427.0 L1508.9,426.9 L1512.5,426.7 L1516.2,426.6 L1519.8,426.5 L1523.4,426.5 L1527.0,426.4 L1530.6,426.4 L1534.3,426.4 L1537.9,426.4 L1541.5,426.4 L1545.1,426.5 L1548.7,426.6 L1552.3,426.6 L1556.0,426.7 L1559.6,426.9 L1563.2,427.0 L1566.8,427.1 L1570.4,427.3 L1574.0,427.5 L1577.6,427.7 L1581.2,427.9 L1584.8,428.1 L1588.4,428.3 L1592.0,428.5 L1595.6,428.8 L1599.3,429.0 L1602.9,429.3 L1606.5,429.6 L1610.1,429.9 L1613.7,430.2 L1617.3,430.5 L1620.9,430.8 L1624.5,431.1 L1628.1,431.4 L1631.7,431.7 L1635.3,432.1 L1638.9,432.4 L1642.5,432.7 L1646.1,433.1 L1649.7,433.4 L1653.3,433.8 L1656.9,434.1 L1660.5,434.5 L1664.1,434.8 L1667.7,435.2 L1671.3,435.5 L1674.9,435.9 L1678.5,436.2 L1682.1,436.6 L1685.7,436.9 L1689.3,437.3 L1692.9,437.6 L1696.5,438.0 L1700.1,438.4 L1703.6,438.7 L1707.2,439.1 L1710.8,439.4 L1714.4,439.8 L1718.0,440.2 L1721.6,440.5 L1725.2,440.9 L1728.8,441.2 L1732.4,441.6 L1736.0,442.0 L1739.6,442.3 L1743.2,442.7 L1746.8,443.1 L1750.4,443.4 L1754.0,443.8 L1757.6,444.2 L1761.2,444.5 L1764.8,444.9 L1768.4,445.2 L1772.0,445.6 L1775.6,446.0 L1779.2,446.3 L1782.8,446.7 L1786.4,447.1 L1790.0,447.4 L1793.6,447.8 L1797.2,448.2 L1800.8,448.5 L1804.4,448.9 L1808.0,449.2 L1811.6,449.6 L1815.2,450.0 L1818.8,450.3 L1822.4,450.7 L1826.0,451.0 L1829.6,451.4 L1833.2,451.8 L1836.8,452.1 L1840.4,452.5 L1844.0,452.8 L1847.6,453.2 L1851.2,453.5 L1854.7,453.9 L1858.3,454.2 L1861.9,454.6 L1865.5,454.9 L1869.1,455.3 L1872.7,455.6 L1876.3,456.0 L1879.9,456.3 L1883.5,456.7 L1887.1,457.0 L1890.7,457.4 L1894.3,457.7 L1897.9,458.1 L1901.5,458.4 L1905.1,458.7 L1908.7,459.1 L1912.3,459.4 L1915.9,459.8 L1919.5,460.1 L1923.1,460.4 L1926.7,460.8 L1930.3,461.1 L1933.9,461.4 L1937.5,461.7 L1941.1,462.1 L1944.7,462.4 L1948.3,462.7 L1951.9,463.0 L1955.5,463.4 L1959.1,463.7 L1962.7,464.0 L1966.3,464.3 L1969.9,464.6 L1973.5,464.9 L1977.1,465.2 L1980.7,465.5 L1984.3,465.8 L1988.0,466.1 L1991.6,466.5 L1995.2,466.7 L1998.8,467.0 L2002.4,467.3 L2006.0,467.6 L2009.6,467.9 L2013.2,468.2 L2016.8,468.5 L2020.4,468.8 L2024.0,469.1 L2027.6,469.3 L2031.2,469.6 L2034.8,469.9 L2038.4,470.2 L2042.0,470.4 L2045.6,470.7 L2049.2,471.0 L2052.8,471.2 L2056.4,471.5 L2060.0,471.8 L2063.6,472.0 L2067.3,472.3 L2070.9,472.5 L2074.5,472.8 L2078.1,473.0 L2081.7,473.2 L2085.3,473.5 L2088.9,473.7 L2092.5,473.9 L2096.1,474.2 L2099.7,474.4 L2103.3,474.6 L2106.9,474.8 L2110.6,475.1 L2114.2,475.3 L2117.8,475.5 L2121.4,475.7 L2125.0,475.9" stroke="#0000ff"/>
<path d="M373.0,1445.0 L373.1,1441.3 L373.1,1437.7 L373.2,1434.0 L373.2,1430.4 L373.3,1426.8 L373.3,1423.1 L373.4,1419.5 L373.4,1415.8 L373.4,1412.2 L373.5,1408.5 L373.5,1404.9 L373.6,1401.2 L373.6,1397.6 L373.6,1393.9 L373.7,1390.3 L373.7,1386.6 L373.7,1383.0 L373.8,1379.3 L373.8,1375.7 L373.8,1372.0 L373.9,1368.4 L373.9,1364.7 L373.9,1361.1 L373.9,1357.4 L374.0,1353.8 L374.0,1350.1 L374.0,1346.5 L374.1,1342.8 L374.1,1339.2 L374.1,1335.5 L374.1,1331.9 L374.2,1328.2 L374.2,1324.6 L374.2,1320.9 L374.2,1317.2 L374.3,1313.6 L374.3,1309.9 L374.3,1306.3 L374.3,1302.6 L374.3,1299.0 L374.4,1295.3 L374.4,1291.7 L374.4,1288.0 L374.4,1284.4 L374.5,1280.7 L374.5,1277.1 L374.5,1273.4 L374.5,1269.7 L374.6,1266.1 L374.6,1262.4 L374.6,1258.8 L374.6,1255.1 L374.7,1251.5 L374.7,1247.8 L374.7,1244.2 L374.7,1240.5 L374.8,1236.9 L374.8,1233.2 L374.8,1229.5 L374.8,1225.9 L374.9,1222.2 L374.9,1218.6 L374.9,1214.9 L375.0,1211.3 L375.0,1207.6 L375.0,1204.0 L375.1,1200.3 L375.1,1196.6 L375.1,1193.0 L375.2,1189.3 L375.2,1185.7 L375.2,1182.0 L375.3,1178.4 L375.3,1174.7 L375.4,1171.1 L375.4,1167.4 L375.4,1163.7 L375.5,1160.1 L375.5,1156.4 L375.6,1152.8 L375.6,1149.1 L375.7,1145.5 L375.7,1141.8 L375.8,1138.2 L375.8,1134.5 L375.9,1130.9 L375.9,1127.2 L376.0,1123.5 L376.1,1119.9 L376.1,1116.2 L376.2,1112.6 L376.2,1108.9 L376.3,1105.3 L376.4,1101.6 L376.4,1098.0 L376.5,1094.3 L376.6,1090.7 L376.7,1087.0 L376.7,1083.4 L376.8,1079.7 L376.9,1076.0 L377.0,1072.4 L377.1,1068.7 L377.1,1065.1 L377.2,1061.4 L377.3,1057.8 L377.4,1054.1 L377.5,1050.5 L377.6,1046.8 L377.7,1043.2 L377.8,1039.5 L377.9,1035.9 L378.0,1032.2 L378.1,1028.6 L378.2,1024.9 L378.4,1021.3 L378.5,1017.6 L378.6,1014.0 L378.7,1010.3 L378.8,1006.7 L379.0,1003.0 L379.1,999.4 L379.2,995.7 L379.4,992.1 L379.5,988.4 L379.6,984.8 L379.8,981.1 L379.9,977.5 L380.1,973.8 L380.2,970.2 L380.4,966.5 L380.5,962.9 L380.7,959.2 L380.9,955.6 L381.0,952.0 L381.2,948.3 L381.4,944.7 L381.5,941.0 L381.7,937.4 L381.9,933.7 L382.1,930.1 L382.3,926.4 L382.5,922.8 L382.7,919.2 L382.9,915.5 L383.1,911.9 L383.3,908.2 L383.5,904.6 L383.7,900.9 L383.9,897.3 L384.1,893.7 L384.4,890.0 L384.6,886.4 L384.8,882.7 L385.1,879.1 L385.3,875.5 L385.5,871.8 L385.8,868.2 L386.0,864.5 L386.3,860.9 L386.6,857.3 L386.8,853.6 L387.1,850.0 L387.4,846.4 L387.6,842.7 L387.9,839.1 L388.2,835.5 L388.5,831.8 L388.8,828.2 L389.1,824.6 L389.5,820.9 L389.8,817.3 L390.1,813.7 L390.5,810.0 L390.9,806.4 L391.3,802.8 L391.7,799.1 L392.1,795.5 L392.6,791.9 L393.0,788.2 L393.5,784.6 L394.0,781.0 L394.6,777.3 L395.1,773.7 L395.7,770.1 L396.3,766.5 L396.9,762.8 L397.6,759.2 L398.3,755.6 L399.0,751.9 L399.7,748.3 L400.5,744.7 L401.3,741.1 L402.2,737.5 L403.1,733.9 L404.1,730.4 L405.1,726.8 L406.2,723.3 L407.4,719.9 L408.7,716.4 L410.0,713.0 L411.4,709.7 L412.9,706.4 L414.5,703.2 L416.3,700.0 L418.1,696.8 L420.0,693.8 L422.0,690.8 L424.1,687.8 L426.4,685.0 L428.7,682.2 L431.1,679.5 L433.5,676.8 L436.1,674.3 L438.7,671.8 L441.4,669.4 L444.1,667.1 L447.0,664.9 L449.8,662.8 L452.8,660.7 L455.7,658.8 L458.8,656.9 L461.8,655.1 L465.0,653.4 L468.1,651.8 L471.3,650.2 L474.6,648.7 L477.9,647.3 L481.2,646.0 L484.6,644.7 L488.0,643.5 L491.4,642.3 L494.9,641.2 L498.4,640.2 L501.9,639.2 L505.4,638.3 L509.0,637.4 L512.6,636.5 L516.2,635.8 L519.8,635.0 L523.5,634.3 L527.2,633.6 L530.8,633.0 L534.5,632.4 L538.2,631.8 L541.9,631.3 L545.7,630.8 L549.4,630.3 L553.1,629.9 L556.8,629.4 L560.6,629.0 L564.3,628.6 L568.0,628.2 L571.7,627.8 L575.4,627.5 L579.1,627.1 L582.8,626.8 L586.5,626.4 L590.2,626.1 L593.9,625.8 L597.6,625.5 L601.2,625.2 L604.9,624.9 L608.6,624.7 L612.3,624.4 L615.9,624.2 L619.6,623.9 L623.2,623.7 L626.9,623.5 L630.5,623.3 L634.2,623.1 L637.8,622.9 L641.5,622.7 L645.1,622.5 L648.8,622.3 L652.4,622.1 L656.0,622.0 L659.7,621.8 L663.3,621.7 L666.9,621.5 L670.5,621.4 L674.2,621.3 L677.8,621.1 L681.4,621.0 L685.0,620.9 L688.7,620.8 L692.3,620.7 L695.9,620.6 L699.5,620.5 L703.1,620.4 L706.7,620.3 L710.4,620.2 L714.0,620.1 L717.6,620.0 L721.2,619.9 L724.8,619.8 L728.4,619.7 L732.1,619.6 L735.7,619.6 L739.3,619.5 L742.9,619.4 L746.5,619.3 L750.2,619.2 L753.8,619.2 L757.4,619.1 L761.0,619.0 L764.7,618.9 L768.3,618.8 L771.9,618.7 L775.6,618.7 L779.2,618.6 L782.8,618.5 L786.5,618.4 L790.1,618.3 L793.7,618.3 L797.4,618.2 L801.0,618.1 L804.6,618.0 L808.3,617.9 L811.9,617.8 L815.6,617.8 L819.2,617.7 L822.9,617.6 L826.5,617.5 L830.1,617.4 L833.8,617.3 L837.4,617.2 L841.1,617.2 L844.7,617.1 L848.4,617.0 L852.0,616.9 L855.7,616.8 L859.3,616.7 L863.0,616.7 L866.7,616.6 L870.3,616.5 L874.0,616.4 L877.6,616.3 L881.3,616.2 L884.9,616.2 L888.6,616.1 L892.2,616.0 L895.9,615.9 L899.6,615.8 L903.2,615.7 L906.9,615.7 L910.5,615.6 L914.2,615.5 L917.9,615.4 L921.5,615.3 L925.2,615.3 L928.9,615.2 L932.5,615.1 L936.2,615.0 L939.8,614.9 L943.5,614.9 L947.2,614.8 L950.8,614.7 L954.5,614.6 L958.2,614.5 L961.8,614.5 L965.5,614.4 L969.2,614.3 L972.8,614.2 L976.5,614.1 L980.2,614.1 L983.8,614.0 L987.5,613.9 L991.2,613.8 L994.8,613.8 L998.5,613.7 L1002.2,613.6 L1005.8,613.6 L1009.5,613.5 L1013.2,613.4 L1016.8,613.3 L1020.5,613.3 L1024.2,613.2 L1027.8,613.1 L1031.5,613.1 L1035.1,613.0 L1038.8,612.9 L1042.5,612.9 L1046.1,612.8 L1049.8,612.7 L1053.5,612.7 L1057.1,612.6 L1060.8,612.5 L1064.5,612.5 L1068.1,612.4 L1071.8,612.3 L1075.5,612.3 L1079.1,612.2 L1082.8,612.2 L1086.4,612.1 L1090.1,612.0 L1093.8,612.0 L1097.4,611.9 L1101.1,611.9 L1104.7,611.8 L1108.4,611.8 L1112.0,611.7 L1115.7,611.7 L1119.4,611.6 L1123.0,611.6 L1126.7,611.5 L1130.3,611.5 L1134.0,611.4 L1137.6,611.4 L1141.3,611.3 L1144.9,611.3 L1148.6,611.2 L1152.2,611.2 L1155.9,611.1 L1159.5,611.0 L1163.2,611.0 L1166.8,610.9 L1170.5,610.8 L1174.1,610.7 L1177.8,610.6 L1181.4,610.5 L1185.1,610.4 L1188.7,610.3 L1192.3,610.2 L1196.0,610.0 L1199.6,609.9 L1203.3,609.7 L1206.9,609.6 L1210.5,609.4 L1214.2,609.2 L1217.8,608.9 L1221.4,608.7 L1225.1,608.4 L1228.7,608.2 L1232.3,607.9 L1236.0,607.6 L1239.6,607.3 L1243.2,606.9 L1246.8,606.6 L1250.5,606.2 L1254.1,605.8 L1257.7,605.3 L1261.3,604.9 L1264.9,604.4 L1268.6,603.9 L1272.2,603.4 L1275.8,602.8 L1279.4,602.2 L1283.0,601.6 L1286.6,601.0 L1290.2,600.3 L1293.8,599.6 L1297.4,598.9 L1301.0,598.1 L1304.6,597.3 L1308.2,596.5 L1311.7,595.6 L1315.3,594.7 L1318.8,593.7 L1322.3,592.7 L1325.8,591.6 L1329.3,590.6 L1332.8,589.4 L1336.2,588.2 L1339.7,587.0 L1343.1,585.7 L1346.4,584.4 L1349.8,583.0 L1353.1,581.5 L1356.4,580.0 L1359.7,578.4 L1362.9,576.8 L1366.1,575.1 L1369.3,573.4 L1372.4,571.6 L1375.5,569.7 L1378.6,567.8 L1381.7,565.8 L1384.7,563.8 L1387.7,561.7 L1390.6,559.6 L1393.6,557.4 L1396.5,555.2 L1399.4,552.9 L1402.2,550.6 L1405.1,548.3 L1407.9,546.0 L1410.7,543.6 L1413.5,541.2 L1416.3,538.8 L1419.0,536.4 L1421.8,533.9 L1424.5,531.5 L1427.2,529.0 L1430.0,526.5 L1432.7,524.1 L1435.4,521.6 L1438.1,519.1 L1440.8,516.6 L1443.4,514.1 L1446.1,511.6 L1448.8,509.1 L1451.4,506.6 L1454.1,504.1 L1456.7,501.6 L1459.4,499.1 L1462.0,496.5 L1464.6,494.0 L1467.2,491.4 L1469.8,488.9 L1472.4,486.3 L1475.1,483.8 L1477.7,481.2 L1480.3,478.6 L1482.9,476.1 L1485.5,473.5 L1488.1,470.9 L1490.7,468.4 L1493.4,465.9 L1496.0,463.3 L1498.6,460.8 L1501.3,458.3 L1504.0,455.8 L1506.7,453.4 L1509.4,450.9 L1512.1,448.5 L1514.8,446.1 L1517.6,443.7 L1520.4,441.3 L1523.2,439.0 L1526.0,436.7 L1528.9,434.4 L1531.7,432.2 L1534.6,430.0 L1537.6,427.8 L1540.6,425.7 L1543.6,423.6 L1546.6,421.6 L1549.6,419.6 L1552.7,417.6 L1555.9,415.7 L1559.0,413.9 L1562.2,412.0 L1565.4,410.3 L1568.7,408.6 L1571.9,406.9 L1575.2,405.3 L1578.5,403.7 L1581.8,402.2 L1585.2,400.8 L1588.6,399.4 L1592.0,398.1 L1595.4,396.9 L1598.9,395.7 L1602.3,394.5 L1605.8,393.5 L1609.3,392.5 L1612.8,391.6 L1616.4,390.7 L1619.9,390.0 L1623.5,389.2 L1627.1,388.6 L1630.6,388.0 L1634.3,387.4 L1637.9,386.9 L1641.5,386.5 L1645.1,386.1 L1648.8,385.8 L1652.4,385.5 L1656.1,385.2 L1659.7,385.0 L1663.4,384.8 L1667.0,384.6 L1670.7,384.5 L1674.4,384.4 L1678.0,384.3 L1681.7,384.2 L1685.4,384.2 L1689.0,384.2 L1692.7,384.2 L1696.4,384.2 L1700.0,384.2 L1703.7,384.3 L1707.3,384.4 L1711.0,384.5 L1714.7,384.6 L1718.3,384.7 L1722.0,384.8 L1725.6,385.0 L1729.3,385.1 L1732.9,385.3 L1736.6,385.5 L1740.2,385.7 L1743.8,386.0 L1747.5,386.2 L1751.1,386.4 L1754.8,386.7 L1758.4,387.0 L1762.0,387.3 L1765.7,387.6 L1769.3,387.9 L1772.9,388.2 L1776.6,388.5 L1780.2,388.9 L1783.8,389.2 L1787.5,389.6 L1791.1,390.0 L1794.7,390.4 L1798.4,390.7 L1802.0,391.1 L1805.6,391.5 L1809.3,392.0 L1812.9,392.4 L1816.5,392.8 L1820.1,393.2 L1823.8,393.7 L1827.4,394.1 L1831.0,394.6 L1834.6,395.0 L1838.2,395.5 L1841.9,396.0 L1845.5,396.4 L1849.1,396.9 L1852.7,397.4 L1856.4,397.9 L1860.0,398.3 L1863.6,398.8 L1867.2,399.3 L1870.8,399.8 L1874.5,400.3 L1878.1,400.8 L1881.7,401.3 L1885.3,401.8 L1888.9,402.3 L1892.6,402.8 L1896.2,403.3 L1899.8,403.8 L1903.4,404.2 L1907.1,404.7 L1910.7,405.2 L1914.3,405.7 L1917.9,406.2 L1921.5,406.7 L1925.2,407.1 L1928.8,407.6 L1932.4,408.1 L1936.0,408.5 L1939.7,409.0 L1943.3,409.5 L1946.9,409.9 L1950.5,410.3 L1954.2,410.8 L1957.8,411.2 L1961.4,411.6 L1965.0,412.1 L1968.7,412.5 L1972.3,412.9 L1975.9,413.3 L1979.6,413.7 L1983.2,414.1 L1986.8,414.5 L1990.5,414.9 L1994.1,415.2 L1997.7,415.6 L2001.4,416.0 L2005.0,416.4 L2008.6,416.7 L2012.3,417.1 L2015.9,417.5 L2019.5,417.8 L2023.2,418.2 L2026.8,418.5 L2030.4,418.9 L2034.1,419.2 L2037.7,419.6 L2041.3,419.9 L2045.0,420.3 L2048.6,420.6 L2052.3,421.0 L2055.9,421.3 L2059.5,421.6 L2063.2,422.0 L2066.8,422.3 L2070.4,422.6 L2074.1,423.0 L2077.7,423.3 L2081.3,423.6 L2085.0,424.0 L2088.6,424.3 L2092.3,424.6 L2095.9,425.0 L2099.5,425.3 L2103.2,425.6 L2106.8,426.0 L2110.4,426.3 L2114.1,426.6 L2117.7,427.0 L2121.4,427.3 L2125.0,427.6" stroke="#ff00ff"/>
</g>
<g font-family="'Liberation Serif', 'Times New Roman', serif" font-size="80" fill="#262626">
<text x="341.4" y="120.2" text-anchor="end" textLength="137" lengthAdjust="spacingAndGlyphs">0.03</text>
<text x="337.8" y="455.6" text-anchor="end" textLength="134.5" lengthAdjust="spacingAndGlyphs">0.01</text>
<text x="337.6" y="787.6" text-anchor="end" textLength="158.5" lengthAdjust="spacingAndGlyphs">-0.01</text>
<text x="339.8" y="1119.8" text-anchor="end" textLength="161.6" lengthAdjust="spacingAndGlyphs">-0.03</text>
<text x="339.8" y="1454.3" text-anchor="end" textLength="161.6" lengthAdjust="spacingAndGlyphs">-0.05</text>
<text x="365.2" y="1535.4" text-anchor="middle" textLength="40" lengthAdjust="spacingAndGlyphs">0</text>
<text x="911.1" y="1535.4" text-anchor="middle" textLength="120" lengthAdjust="spacingAndGlyphs">500</text>
<text x="1462.5" y="1535.4" text-anchor="middle" textLength="158" lengthAdjust="spacingAndGlyphs">1000</text>
<text x="2010.5" y="1535.4" text-anchor="middle" textLength="157.6" lengthAdjust="spacingAndGlyphs">1500</text>
</g>
<g font-family="'Liberation Serif', 'Times New Roman', serif" font-size="88" fill="#262626">
<text y="1655.4"><tspan x="968.7" textLength="208.4" lengthAdjust="spacingAndGlyphs">Cycle</tspan> <tspan x="1196.4" textLength="313.2" lengthAdjust="spacingAndGlyphs">Number</tspan></text>
<text transform="translate(120.8,774.2) rotate(-90)" text-anchor="middle" textLength="794" lengthAdjust="spacingAndGlyphs">Slope-changing Ratio</text>
</g>
<g font-family="'Liberation Sans', Arial, sans-serif" font-size="54.6" fill="#000">
<rect x="477.40" y="181.40" width="296.10" height="174.20" fill="#fffff0" stroke="#cbcbcb" stroke-width="2.2"/>
<text x="490.2" y="253.9" textLength="127.5" lengthAdjust="spacingAndGlyphs">X: 75</text>
<text x="490.2" y="325.1" textLength="261.1" lengthAdjust="spacingAndGlyphs">Y: 0.01338</text>
<rect x="759.40" y="272.60" width="325.30" height="174.50" fill="#fffff0" stroke="#e4e4e1" stroke-width="4.4"/>
<text x="771.1" y="344.0" textLength="157.9" lengthAdjust="spacingAndGlyphs">X: 680</text>
<text x="771.1" y="415.2" textLength="290.0" lengthAdjust="spacingAndGlyphs">Y: 0.007923</text>
<rect x="1221.40" y="224.70" width="268.00" height="174.00" fill="#fffff0" stroke="#dadada" stroke-width="3.0"/>
<text x="1235.0" y="296.8" textLength="188.2" lengthAdjust="spacingAndGlyphs">X: 1049</text>
<text x="1235.0" y="368.0" textLength="234.4" lengthAdjust="spacingAndGlyphs">Y: 0.0108</text>
<rect x="1708.90" y="181.40" width="298.00" height="174.20" fill="#fffff0" stroke="#cbcbcb" stroke-width="2.2"/>
<text x="1721.7" y="253.9" textLength="188.2" lengthAdjust="spacingAndGlyphs">X: 1200</text>
<text x="1721.7" y="325.1" textLength="261.1" lengthAdjust="spacingAndGlyphs">Y: 0.01334</text>
</g>
<rect x="424.9" y="358.8" width="49" height="49" fill="#ffffdc"/>
<rect x="430.4" y="364.3" width="38" height="38" fill="#000"/>
<rect x="1087.8" y="449.7" width="49" height="49" fill="#ffffdc"/>
<rect x="1093.3" y="455.2" width="38" height="38" fill="#000"/>
<rect x="1492.1" y="401.8" width="49" height="49" fill="#ffffdc"/>
<rect x="1497.6" y="407.3" width="38" height="38" fill="#000"/>
<rect x="1657.5" y="359.5" width="49" height="49" fill="#ffffdc"/>
<rect x="1663.0" y="365.0" width="38" height="38" fill="#000"/>
<line x1="437.2" y1="222.5" x2="415.8" y2="308.3" stroke="#000000" stroke-width="4.2"/>
<polygon points="409.3,334.5 402.7,305.0 428.9,311.6" fill="#000000"/>
<line x1="1102.3" y1="314.8" x2="1123.1" y2="410.8" stroke="#ff0000" stroke-width="4.2"/>
<polygon points="1128.8,437.2 1109.9,413.7 1136.3,408.0" fill="#ff0000"/>
<line x1="1539.2" y1="315.3" x2="1502.3" y2="382.2" stroke="#0000ff" stroke-width="4.2"/>
<polygon points="1489.3,405.9 1490.5,375.7 1514.2,388.8" fill="#0000ff"/>
<line x1="2089.0" y1="313.6" x2="1978.9" y2="369.6" stroke="#ff00ff" stroke-width="4.2"/>
<polygon points="1954.8,381.8 1972.8,357.5 1985.0,381.6" fill="#ff00ff"/>
<g font-family="'Liberation Serif', 'Times New Roman', serif" font-weight="bold">
<text fill="#000000"><tspan x="385.9" y="162.6" font-size="76">60</tspan><tspan x="465.4" y="150.0" font-size="64.5">°</tspan><tspan x="492.2" y="162.9" font-size="80">C</tspan></text>
<text fill="#ff0000"><tspan x="994.5" y="242.7" font-size="76">45</tspan><tspan x="1072.4" y="230.1" font-size="64.5">°</tspan><tspan x="1099.2" y="243.0" font-size="80">C</tspan></text>
<text fill="#0000ff"><tspan x="1484.1" y="257.8" font-size="76">25</tspan><tspan x="1564.2" y="245.2" font-size="64.5">°</tspan><tspan x="1591.0" y="258.1" font-size="80">C</tspan></text>
<text fill="#ff00ff"><tspan x="2089.9" y="333.0" font-size="76">10</tspan><tspan x="2172.9" y="320.4" font-size="64.5">°</tspan><tspan x="2199.7" y="333.3" font-size="80">C</tspan></text>
</g>
</svg>
</body></html>
